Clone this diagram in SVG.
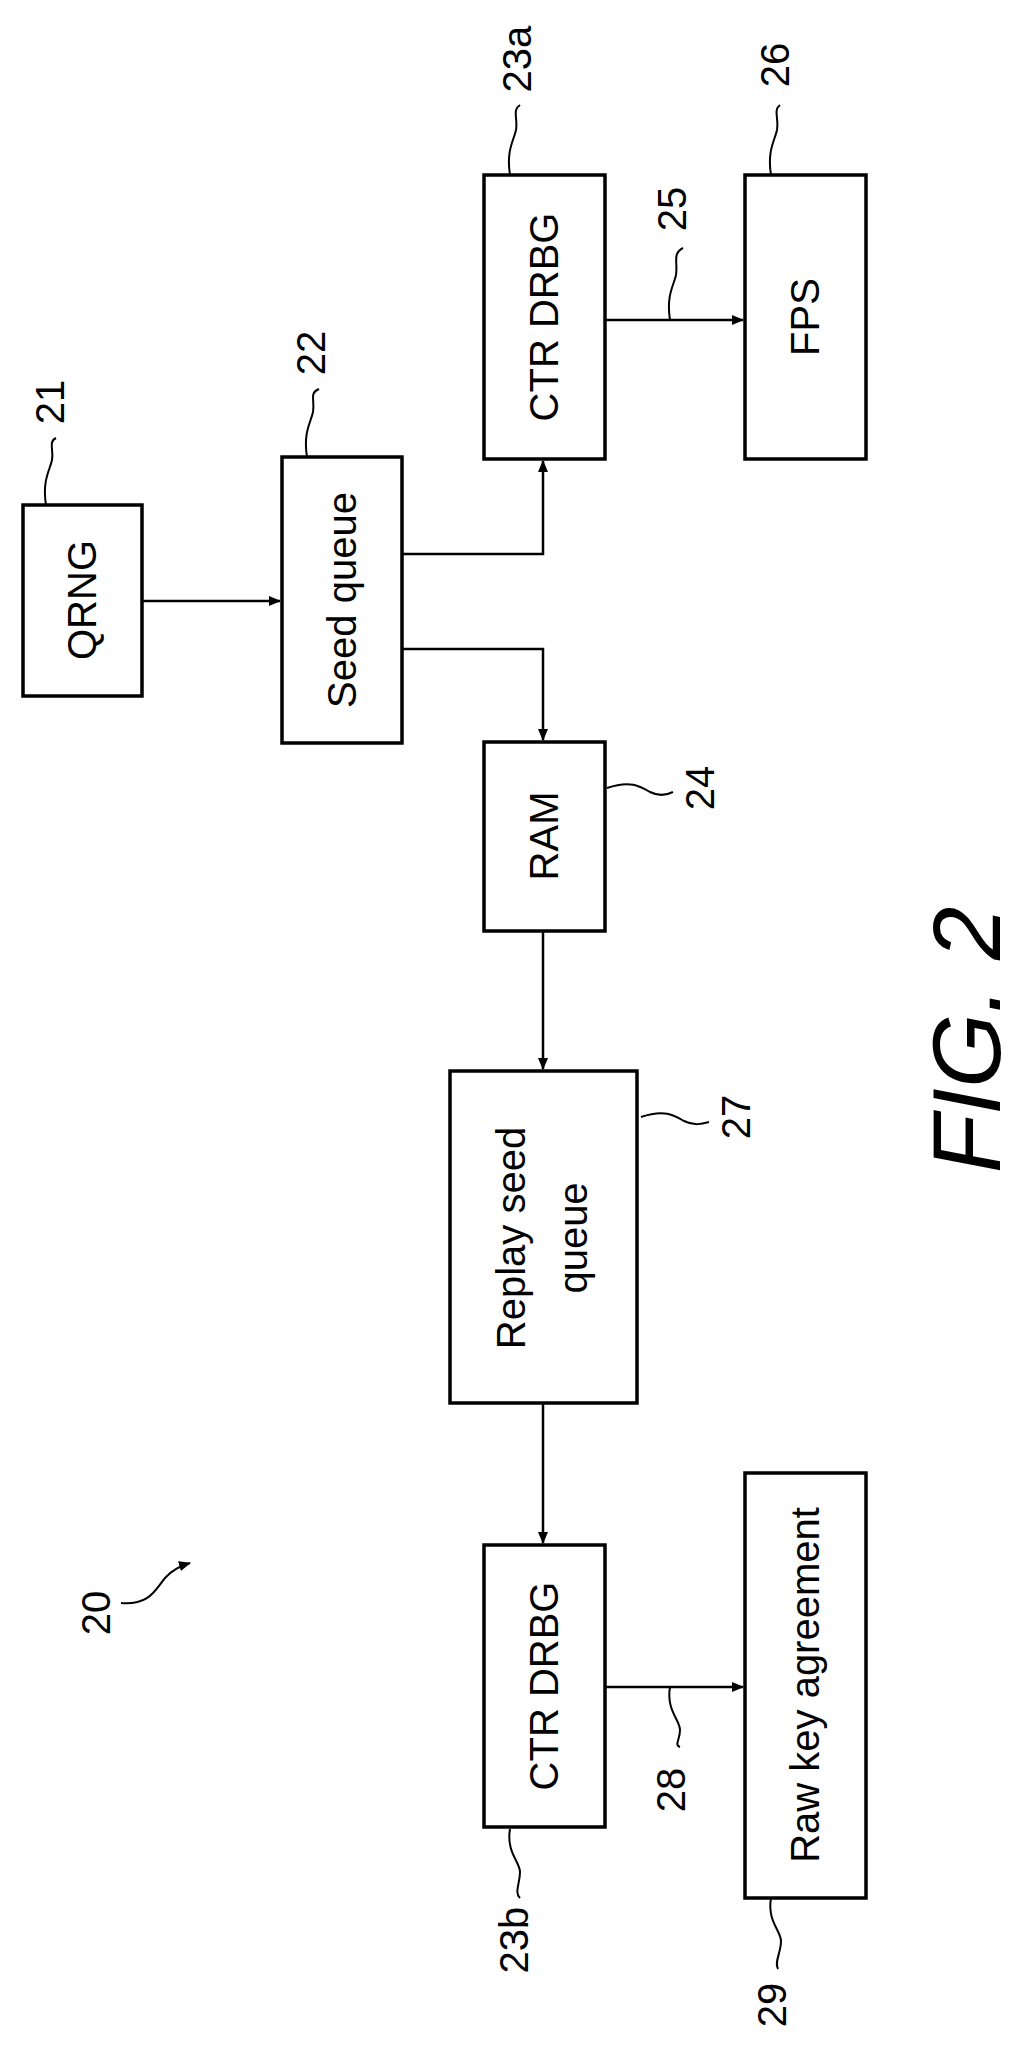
<svg xmlns="http://www.w3.org/2000/svg" width="1019" height="2050" viewBox="0 0 1019 2050">
<style>
rect{fill:#fff;stroke:#000;stroke-width:3.5}
text{font-family:"Liberation Sans",Arial,sans-serif;font-size:40px;text-anchor:middle;fill:#000}
.n{dominant-baseline:central}
.c path,.c line{stroke:#000;stroke-width:2.5;fill:none}
.l{stroke:#000;stroke-width:2;fill:none}
</style>
<defs><marker id="a" markerWidth="12" markerHeight="10" refX="11" refY="5" orient="auto" markerUnits="userSpaceOnUse"><path d="M0,0L12,5L0,10z" fill="#000"/></marker></defs>
<rect width="1019" height="2050" fill="#fff" style="stroke:none"/>
<g class="c">
<line x1="142" y1="601" x2="280" y2="601" marker-end="url(#a)"/>
<path d="M402,554H543V461" marker-end="url(#a)"/>
<path d="M402,649H543V740" marker-end="url(#a)"/>
<line x1="605" y1="320" x2="743" y2="320" marker-end="url(#a)"/>
<line x1="543" y1="931" x2="543" y2="1069" marker-end="url(#a)"/>
<line x1="543" y1="1403" x2="543" y2="1543" marker-end="url(#a)"/>
<line x1="605" y1="1687" x2="743" y2="1687" marker-end="url(#a)"/>
</g>
<g id="qrng"><rect x="23" y="505" width="119" height="191"/><text transform="translate(96,600) rotate(-90)">QRNG</text></g>
<g id="seedqueue"><rect x="282" y="457" width="120" height="286"/><text transform="translate(356,600) rotate(-90)">Seed queue</text></g>
<g id="ctr-a"><rect x="484" y="175" width="121" height="284"/><text transform="translate(558,317) rotate(-90)">CTR DRBG</text></g>
<g id="fps"><rect x="745" y="175" width="121" height="284"/><text transform="translate(819,317) rotate(-90)">FPS</text></g>
<g id="ram"><rect x="484" y="742" width="121" height="189"/><text transform="translate(558,836) rotate(-90)">RAM</text></g>
<g id="replay"><rect x="450" y="1071" width="187" height="332"/><text transform="translate(525,1238) rotate(-90)">Replay seed</text><text transform="translate(587,1238) rotate(-90)">queue</text></g>
<g id="ctr-b"><rect x="484" y="1545" width="121" height="282"/><text transform="translate(558,1686) rotate(-90)">CTR DRBG</text></g>
<g id="rawkey"><rect x="745" y="1473" width="121" height="425"/><text transform="translate(819,1685) rotate(-90)">Raw key agreement</text></g>
<g id="labels">
<path class="l" d="M46,505C42,480 50,470 52,460C54,450 48,442 56,438"/><text class="n" transform="translate(50,402) rotate(-90)">21</text>
<path class="l" d="M307,457C303,432 311,422 313,412C315,400 309,393 319,389"/><text class="n" transform="translate(311,353) rotate(-90)">22</text>
<path class="l" d="M510,175C506,150 514,140 516,130C518,118 512,110 520,105"/><text class="n" transform="translate(517,59) rotate(-90)">23a</text>
<path class="l" d="M771,175C767,150 775,140 777,130C779,118 773,110 780,105"/><text class="n" transform="translate(775,65) rotate(-90)">26</text>
<path class="l" d="M670,320C666,295 674,285 676,275C678,262 672,254 683,248"/><text class="n" transform="translate(672,209) rotate(-90)">25</text>
<path class="l" d="M607,788C630,780 640,786 650,792C660,797 667,795 673,792"/><text class="n" transform="translate(700,788) rotate(-90)">24</text>
<path class="l" d="M641,1117C664,1109 674,1115 684,1121C694,1126 702,1124 709,1122"/><text class="n" transform="translate(736,1117) rotate(-90)">27</text>
<path class="l" d="M670,1687C666,1710 680,1720 680,1730C680,1740 674,1745 680,1747"/><text class="n" transform="translate(671,1790) rotate(-90)">28</text>
<path class="l" d="M510,1829C506,1852 520,1862 520,1872C520,1884 514,1892 520,1898"/><text class="n" transform="translate(514,1940) rotate(-90)">23b</text>
<path class="l" d="M771,1898C767,1921 781,1931 781,1941C781,1953 774,1962 778,1969"/><text class="n" transform="translate(772,2005) rotate(-90)">29</text>
<path class="l" d="M121,1603C150,1605 155,1590 165,1578C172,1570 180,1566 190,1563" marker-end="url(#a)"/><text class="n" transform="translate(96,1613) rotate(-90)">20</text>
</g>
<text transform="translate(1000,1040) rotate(-90)" style="font-size:96px;font-style:italic">FIG. 2</text>
</svg>
